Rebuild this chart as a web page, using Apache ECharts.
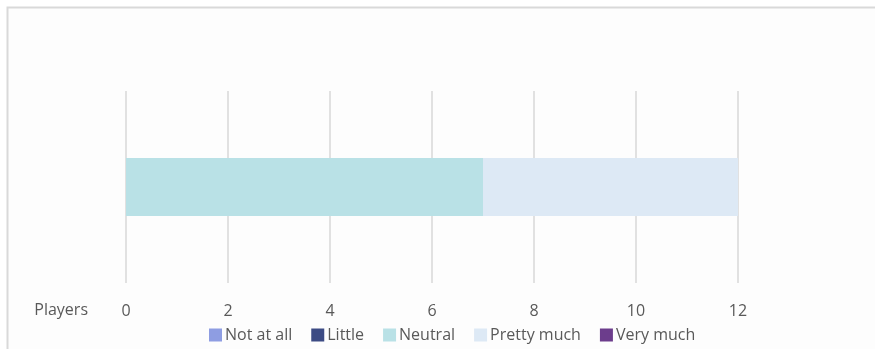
<!DOCTYPE html>
<html>
<head>
<meta charset="utf-8">
<script src="https://cdn.jsdelivr.net/npm/echarts@6/dist/echarts.min.js"></script>
<style>
  html, body { margin: 0; padding: 0; background: #ffffff; }
  #chart { width: 875px; height: 349px; }
</style>
</head>
<body>
<div id="chart"></div>
<script>
var categories = ['Players'];
var seriesNames = ['Not at all', 'Little', 'Neutral', 'Pretty much', 'Very much'];
var seriesValues = [
    [0],   // Not at all
    [0],   // Little
    [7],   // Neutral
    [5],   // Pretty much
    [0]    // Very much
];
var colors = ['#8e9de2', '#3c4b84', '#b9e1e6', '#dde9f5', '#6c3d8c'];
var xTicks = [0, 2, 4, 6, 8, 10, 12];

var chart = echarts.init(document.getElementById('chart'));

var series = seriesNames.map(function(name, i) {
    return {
        name: name,
        type: 'bar',
        stack: 'total',
        barWidth: 58,
        data: seriesValues[i],
        itemStyle: { color: colors[i] },
        emphasis: { disabled: true }
    };
});

var option = {
    animation: false,
    textStyle: { fontFamily: 'Open Sans', color: '#595959' },
    graphic: [{
        type: 'rect',
        z: -10,
        shape: { x: 7.5, y: 7.5, width: 900, height: 400 },
        style: { fill: '#fdfdfd', stroke: '#d9d9d9', lineWidth: 2 }
    }],
    grid: { left: 126, right: 137, top: 91, bottom: 66 },
    legend: {
        data: seriesNames,
        bottom: 1,
        left: 204,
        itemWidth: 13,
        itemHeight: 13,
        itemGap: 19,
        icon: 'rect',
        textStyle: { fontSize: 16, color: '#595959', padding: [0, 0, 0, -2] }
    },
    xAxis: {
        type: 'value',
        min: xTicks[0],
        max: xTicks[xTicks.length - 1],
        interval: 2,
        axisLine: { show: false },
        axisTick: { show: false },
        axisLabel: { fontSize: 16, color: '#595959', margin: 20 },
        splitLine: { lineStyle: { color: '#e1e1e1', width: 2 } }
    },
    yAxis: {
        type: 'category',
        data: categories,
        axisLine: { show: false },
        axisTick: { show: false },
        axisLabel: { show: false },
        name: categories[0],
        nameLocation: 'start',
        nameGap: 19,
        nameTextStyle: { fontSize: 16, color: '#595959', align: 'right', padding: [0, 38, 0, 0] }
    },
    series: series
};

chart.setOption(option);
</script>
</body>
</html>
